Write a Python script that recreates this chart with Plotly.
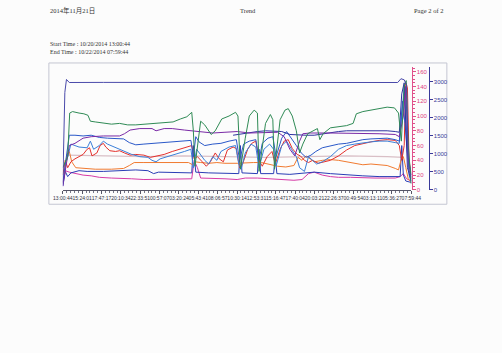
import plotly.graph_objects as go

# ---- data (hours since start, values) ----
TOTAL_H = 42.9833
tick_labels = ["13:00:44", "15:24:01", "17:47:17", "20:10:34", "22:33:51", "00:57:07",
               "03:20:24", "05:43:41", "08:06:57", "10:30:14", "12:53:31", "15:16:47",
               "17:40:04", "20:03:21", "22:26:37", "00:49:54", "03:13:11", "05:36:27",
               "07:59:44"]

navy_t = [0, 0.25, 0.45, 0.8, 5, 10, 15, 20, 25, 30, 35, 41.3, 41.7, 42.1, 42.4, 42.6, 42.98]
navy_v = [150, 2700, 3060, 2975, 2978, 2975, 2972, 2975, 2976, 2975, 2974, 2975, 3080, 3050, 2900, 600, 350]

green_t = [0.0, 0.6, 0.85, 1.2, 2.0, 2.6, 3.1, 3.4, 4.0, 5.0, 6.0, 7.0, 8.0, 9.0, 10.0, 11.2, 12.5, 13.6,
           14.5, 15.3, 15.9, 16.1, 16.3, 16.6, 17.0, 17.5, 18.3, 18.8, 19.6, 20.5, 21.3, 21.6, 21.9, 22.5,
           23.0, 23.6, 24.0, 24.2, 25.0, 25.6, 25.9, 26.1, 26.8, 27.4, 27.8, 28.3, 28.8, 29.2, 29.6, 30.2,
           31.0, 31.4, 31.7, 32.1, 33.0, 34.0, 35.0, 35.8, 36.2, 37.0, 38.0, 39.0, 40.0, 40.9, 41.4, 41.75,
           42.1, 42.35, 42.6, 42.98]
green_v = [30, 45, 104, 106, 104, 103, 101, 93, 92, 91, 89, 90, 88, 88, 89, 90, 91, 92,
           96, 99, 105, 80, 32, 60, 93, 88, 75, 80, 96, 100, 105, 100, 28, 70,
           100, 108, 104, 25, 90, 102, 95, 28, 95, 108, 110, 100, 80, 50, 62, 76,
           80, 83, 68, 76, 84, 86, 87, 90, 103, 106, 108, 110, 112, 111, 104, 66,
           140, 148, 60, 8]

purple_t = [0.0, 0.4, 0.8, 1.5, 2.5, 3.5, 5.0, 7.0, 7.6, 8.3, 9.5, 11.0, 11.5, 12.5, 13.5, 15.0, 16.0,
            17.0, 18.5, 20.0, 21.5, 23.0, 24.5, 25.5, 26.5, 27.3, 28.0, 28.6, 29.2, 29.6, 30.5, 33.0,
            36.0, 39.0, 41.0, 41.5, 42.0, 42.3, 42.6, 42.98]
purple_v = [5, 30, 60, 63, 70, 72, 73, 73, 76, 81, 83, 83, 80, 83, 83, 81, 80,
            79, 77, 78, 79, 77, 77, 77, 78, 72, 55, 46, 66, 76, 77, 77,
            77, 76, 75, 72, 100, 140, 40, 15]

blueA_t = [0, 0.5, 0.8, 1.5, 2.5, 3.5, 4.5, 5.5, 6.5, 7.5, 8.2, 9.0, 10.0, 11.0, 12.0, 13.0, 14.0, 15.0,
           15.8, 16.1, 16.4, 16.8, 17.5, 18.5, 19.5, 20.5, 21.4, 21.8, 22.3, 23.0, 23.8, 24.2, 24.6, 25.3,
           25.9, 26.3, 27.0, 27.6, 28.2, 28.8, 29.4, 30.0, 30.6, 31.2, 32.0, 33.0, 34.0, 35.0, 36.0, 37.0,
           38.0, 39.0, 40.0, 41.0, 41.5, 41.9, 42.2, 42.5, 42.98]
blueA_v = [10, 50, 74, 74, 73, 74, 71, 70, 70, 69, 64, 61, 62, 63, 63, 64, 65, 66,
           67, 45, 72, 65, 60, 62, 63, 66, 68, 40, 62, 66, 68, 40, 63, 70,
           72, 45, 70, 79, 70, 60, 50, 44, 47, 52, 57, 60, 62, 63, 66, 68,
           69, 70, 70, 68, 66, 120, 90, 50, 20]

blueB_t = [0.5, 1.0, 2.0, 3.0, 3.4, 3.8, 4.5, 5.0, 5.5, 6.5, 7.5, 8.5, 9.5, 10.5, 11.0, 11.5, 12.0, 13.0,
           14.0, 15.0, 15.8, 16.1, 16.5, 17.0, 17.5, 18.0, 18.5, 19.0, 19.5, 20.5, 21.3, 21.7, 22.0, 22.5,
           23.2, 23.8, 24.2, 24.8, 25.5, 26.0, 26.3, 27.0, 27.6, 28.2, 28.8, 29.2, 29.8, 30.3, 30.8, 31.3,
           32.0, 33.0, 34.0, 35.0, 36.0, 37.0, 38.0, 39.0, 40.0, 41.0, 41.5, 41.8, 42.1, 42.4, 42.7, 42.98]
blueB_v = [40, 62, 58, 57, 66, 55, 60, 66, 62, 57, 52, 48, 45, 44, 40, 38, 42, 45,
           48, 52, 55, 30, 55, 48, 40, 35, 45, 40, 52, 58, 60, 35, 28, 50,
           62, 58, 30, 55, 62, 55, 32, 60, 66, 55, 45, 30, 25, 45, 40, 35,
           38, 45, 55, 60, 62, 64, 65, 66, 66, 64, 63, 100, 140, 80, 20, 10]

dblue_t = [21.0, 22.0, 23.0, 24.0, 25.0, 26.0, 27.0, 28.0, 29.0, 30.0, 31.0, 32.0, 33.0, 34.0, 35.0,
           36.0, 37.0, 38.0, 39.0, 40.0, 41.0, 41.5, 41.8, 42.1, 42.5, 42.98]
dblue_v = [74, 76, 78, 79, 80, 80, 79, 75, 74, 74, 74, 76, 78, 79, 80,
           80, 81, 80, 81, 80, 79, 78, 130, 145, 30, 12]

red_t = [0.0, 0.3, 0.6, 1.0, 1.5, 2.0, 2.5, 3.0, 3.3, 3.6, 4.2, 4.6, 5.0, 5.3, 5.8, 6.5, 7.0, 7.6, 8.3,
         9.0, 10.0, 10.8, 11.5, 12.5, 13.5, 14.5, 15.3, 15.9, 16.2, 16.6, 17.2, 17.7, 18.2, 18.8, 19.3,
         19.8, 20.3, 21.0, 21.4, 21.8, 22.2, 22.8, 23.3, 23.8, 24.2, 24.6, 25.2, 25.8, 26.2, 26.8, 27.3,
         27.8, 28.3, 28.9, 29.3, 29.8, 30.3, 30.8, 31.5, 32.2, 33.0, 34.0, 35.0, 36.0, 37.0, 38.0, 39.0,
         40.0, 41.0, 41.5, 41.8, 42.1, 42.3, 42.5, 42.7, 42.98]
red_v = [20, 40, 30, 38, 42, 45, 48, 55, 57, 46, 50, 60, 63, 58, 53, 52, 53, 50, 47,
         48, 47, 44, 46, 48, 52, 55, 58, 60, 42, 45, 38, 32, 38, 50, 42,
         38, 54, 58, 56, 30, 36, 55, 63, 66, 40, 32, 45, 52, 35, 55, 66,
         68, 56, 48, 46, 40, 37, 40, 36, 38, 40, 46, 54, 60, 63, 65, 67,
         68, 67, 60, 40, 60, 145, 138, 40, 20]

gray_t = [0.5, 5, 10, 15, 20, 25, 30, 35, 40, 41.5, 42.0]
gray_v = [47, 46, 45, 46, 45, 44, 45, 46, 45, 45, 44]

orange_t = [0.2, 0.5, 0.8, 1.1, 1.6, 2.5, 4.0, 6.0, 7.5, 8.2, 8.8, 10.0, 12.0, 14.0, 15.5, 16.0, 16.3,
            17.0, 18.0, 19.0, 20.0, 21.5, 22.5, 23.5, 24.5, 25.5, 26.5, 27.5, 28.5, 29.0, 29.5, 30.0,
            30.5, 31.0, 32.0, 33.0, 34.0, 35.0, 36.0, 37.0, 38.0, 39.0, 40.0, 41.0, 41.4, 41.7, 42.0,
            42.3, 42.6, 42.98]
orange_v = [20, 48, 52, 38, 30, 29, 28, 28, 29, 33, 37, 37, 37, 37, 37, 34, 38,
            37, 36, 37, 36, 36, 37, 37, 37, 34, 32, 31, 33, 44, 40, 46,
            42, 38, 40, 41, 40, 38, 35, 34, 35, 34, 33, 29, 27, 40, 45,
            30, 15, 10]

lblue_t = [0.0, 0.3, 0.6, 1.0, 2.0, 3.0, 5.0, 7.0, 8.0, 9.0, 10.5, 11.2, 11.8, 13.0, 14.0, 15.0, 15.9,
           16.1, 16.4, 18.0, 20.0, 21.7, 21.9, 22.1, 24.0, 24.2, 24.4, 26.0, 26.2, 26.4, 28.0, 29.0,
           30.0, 31.0, 33.0, 35.0, 37.0, 39.0, 41.0, 41.6, 41.8, 42.0, 42.3, 42.98]
lblue_v = [5, 25, 18, 23, 26, 25, 25, 26, 27, 27, 26, 22, 24, 24, 24, 23, 23,
           60, 24, 23, 22, 22, 60, 23, 22, 55, 22, 22, 45, 22, 21, 22,
           24, 24, 22, 20, 19, 18, 18, 18, 60, 20, 12, 10]

mag_t = [0.0, 0.3, 0.8, 1.5, 2.5, 3.5, 4.5, 6.0, 7.5, 8.5, 10.0, 11.5, 13.0, 14.5, 15.9, 16.2, 16.6,
         17.0, 18.5, 20.0, 21.5, 22.5, 24.0, 25.5, 26.5, 27.5, 28.5, 29.5, 30.3, 31.0, 32.0, 33.0,
         34.0, 35.5, 37.0, 38.5, 40.0, 41.0, 41.6, 42.0, 42.4, 42.98]
mag_v = [10, 26, 24, 22, 20, 19, 17, 16, 16, 15, 14, 14, 15, 15, 15, 40, 30,
         16, 16, 15, 14, 16, 16, 15, 15, 14, 13, 14, 22, 24, 20, 18,
         17, 17, 16, 16, 16, 16, 18, 22, 15, 12]

fig = go.Figure()

def add(t, v, color, axis="y", width=1.0):
    fig.add_trace(go.Scatter(x=t, y=v, mode="lines", yaxis=axis,
                             line=dict(color=color, width=width), hoverinfo="skip",
                             showlegend=False))

add(gray_t, gray_v, "#d9bfc6", width=1.2)
add(mag_t, mag_v, "#d63aa6")
add(lblue_t, lblue_v, "#2a3db5")
add(orange_t, orange_v, "#f07a30")
add(red_t, red_v, "#e4302c")
add(blueB_t, blueB_v, "#3b7fd8")
add(blueA_t, blueA_v, "#2a58c8")
add(dblue_t, dblue_v, "#2e32a0")
add(purple_t, purple_v, "#7a2aa6")
add(green_t, green_v, "#2f8a55")
add(navy_t, navy_v, "#4a4aaa", axis="y2")

W, H = 502, 353
def px(x):
    return x / W
def py(y):
    return 1 - y / H

tickvals = [i * TOTAL_H / 18 for i in range(19)]

fig.update_layout(
    width=W, height=H,
    margin=dict(l=0, r=0, t=0, b=0),
    paper_bgcolor="#fcfcfc", plot_bgcolor="rgba(0,0,0,0)",
    xaxis=dict(domain=[px(55), px(418)], range=[0, TOTAL_H],
               tickvals=tickvals, ticktext=tick_labels, tickangle=0,
               tickfont=dict(size=5, color="#333344", family="Liberation Sans"),
               showgrid=False, zeroline=False, showline=True, linecolor="#555566", linewidth=1,
               ticks="outside", ticklen=3, tickcolor="#555566",
               minor=dict(ticks="outside", ticklen=2, tickcolor="#777788", dtick=TOTAL_H / 90,
                          tick0=0, showgrid=False)),
    yaxis=dict(domain=[py(191.5), py(68)], range=[0, 165.8],
               side="right", anchor="free", position=px(418.3),
               tickvals=list(range(0, 161, 20)),
               tickfont=dict(size=6, color="#e04080", family="Liberation Sans"),
               showgrid=False, zeroline=False, showline=True, linecolor="#e0508a", linewidth=1,
               ticks="outside", ticklen=3, tickcolor="#e0508a",
               minor=dict(ticks="outside", ticklen=2, tickcolor="#e0508a", dtick=5, showgrid=False)),
    yaxis2=dict(domain=[py(191.5), py(68)], range=[0, 3393], overlaying="y",
                side="right", anchor="free", position=px(436),
                tickvals=[0, 500, 1000, 1500, 2000, 2500, 3000],
                tickfont=dict(size=6, color="#3a3a9a", family="Liberation Sans"),
                showgrid=False, zeroline=False, showline=True, linecolor="#3a3a9a", linewidth=1,
                ticks="outside", ticklen=3, tickcolor="#3a3a9a"),
)

# chart frame
fig.add_shape(type="rect", xref="paper", yref="paper",
              x0=px(40.5), x1=px(455), y0=py(206), y1=py(63.5),
              line=dict(color="#c4c6d2", width=1), layer="below")

serif = "Liberation Serif, Noto Sans CJK SC, serif"
def text(x, y, s, anchor="left", size=6.5):
    fig.add_annotation(x=px(x), y=py(y), xref="paper", yref="paper", text=s,
                       showarrow=False, xanchor=anchor, yanchor="middle",
                       font=dict(family=serif, size=size, color="#333333"))

text(40, 11, "2014年11月21日", size=6.5)
text(248, 11, "Trend", anchor="center", size=6.5)
text(453, 11, "Page 2 of 2", anchor="right", size=6.5)
text(40, 44.5, "Start Time : 10/20/2014 13:00:44", size=6)
text(40, 52, "End Time : 10/22/2014 07:59:44", size=6)

fig.write_html("out.html")
